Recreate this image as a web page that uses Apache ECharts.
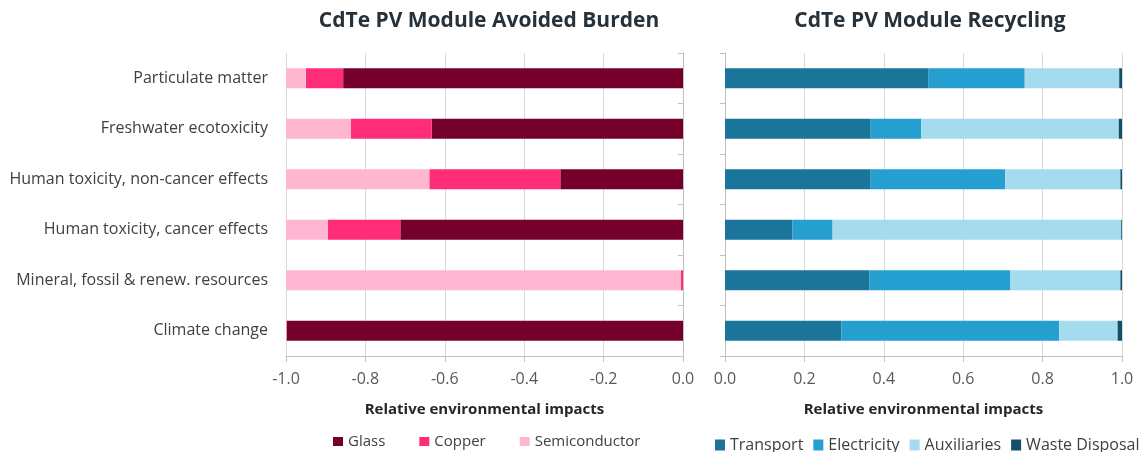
<!DOCTYPE html>
<html lang="en">
  <head>
    <meta charset="UTF-8" />
    <title>CdTe PV Module</title>
    <script src="https://cdn.jsdelivr.net/npm/echarts@6.0.0/dist/echarts.min.js"></script>
    <style>
      html, body { margin: 0; padding: 0; background: #fff; }
      #chart { width: 1142px; height: 452px; }
    </style>
  </head>
  <body>
    <div id="chart"></div>
  </body>
</html>
<script>
  // categories, top to bottom
  const categories = [
    "Particulate matter",
    "Freshwater ecotoxicity",
    "Human toxicity, non-cancer effects",
    "Human toxicity, cancer effects",
    "Mineral, fossil & renew. resources",
    "Climate change",
  ];

  // avoided burden (negative, stacked from 0 outward)
  const glass = [-0.856, -0.633, -0.309, -0.712, 0, -0.998];
  const copper = [-0.094, -0.204, -0.33, -0.183, -0.005, -0.001];
  const semiconductor = [-0.05, -0.163, -0.361, -0.105, -0.995, -0.001];

  // recycling
  const transport = [0.513, 0.367, 0.367, 0.17, 0.364, 0.293];
  const electricity = [0.242, 0.127, 0.339, 0.101, 0.355, 0.549];
  const auxiliaries = [0.238, 0.498, 0.29, 0.727, 0.277, 0.147];
  const wasteDisposal = [0.007, 0.008, 0.004, 0.002, 0.004, 0.011];

  const font = "'Open Sans', sans-serif";
  const gridLine = "#d9d9d9";
  const axisGray = "#bfbfbf";

  const chart = echarts.init(document.getElementById("chart"));

  const valueAxis = (gridIndex, min, max) => ({
    type: "value",
    gridIndex: gridIndex,
    min: min,
    max: max,
    interval: 0.2,
    name: "Relative environmental impacts",
    nameLocation: "middle",
    nameGap: 46,
    nameTextStyle: { fontFamily: font, fontSize: 15, fontWeight: "bold", color: "#262626" },
    axisLine: { show: true, lineStyle: { color: axisGray } },
    axisTick: { show: true, length: 6, lineStyle: { color: axisGray } },
    axisLabel: {
      fontFamily: font,
      fontSize: 16,
      color: "#595959",
      margin: 15,
      formatter: (v) => v.toFixed(1),
    },
    splitLine: { show: true, lineStyle: { color: gridLine } },
  });

  const bar = (name, data, color, xi, yi) => ({
    name: name,
    type: "bar",
    stack: "s" + xi,
    xAxisIndex: xi,
    yAxisIndex: yi,
    barWidth: 20,
    data: data,
    itemStyle: { color: color },
  });

  const option = {
    animation: false,
    backgroundColor: "#fff",
    title: [
      {
        text: "CdTe PV Module Avoided Burden",
        left: 484,
        top: 6,
        textAlign: "center",
        textStyle: { fontFamily: font, fontSize: 21, fontWeight: "bold", color: "#27313a" },
      },
      {
        text: "CdTe PV Module Recycling",
        left: 925,
        top: 6,
        textAlign: "center",
        textStyle: { fontFamily: font, fontSize: 21, fontWeight: "bold", color: "#27313a" },
      },
    ],
    legend: [
      {
        data: ["Glass", "Copper", "Semiconductor"],
        left: 333,
        top: 434,
        padding: 0,
        icon: "rect",
        itemWidth: 10,
        itemHeight: 9,
        itemGap: 34,
        textStyle: { fontFamily: font, fontSize: 15, color: "#404040" },
      },
      {
        data: ["Transport", "Electricity", "Auxiliaries", "Waste Disposal"],
        left: 715,
        top: 437,
        padding: 0,
        icon: "rect",
        itemWidth: 10,
        itemHeight: 11,
        itemGap: 10,
        textStyle: { fontFamily: font, fontSize: 16, color: "#404040" },
      },
    ],
    grid: [
      { left: 286, right: 459, top: 53, height: 303 },
      { left: 725, right: 20, top: 53, height: 303 },
    ],
    xAxis: [valueAxis(0, -1, 0), valueAxis(1, 0, 1)],
    yAxis: [
      {
        type: "category",
        gridIndex: 0,
        position: "left",
        inverse: true,
        data: categories,
        axisLine: { show: false },
        axisTick: { show: false },
        axisLabel: { fontFamily: font, fontSize: 16, color: "#404040", margin: 18 },
      },
      {
        type: "category",
        gridIndex: 0,
        position: "right",
        inverse: true,
        data: categories,
        axisLine: { show: true, onZero: false, lineStyle: { color: axisGray } },
        axisTick: { show: true, inside: true, length: 5, lineStyle: { color: axisGray } },
        axisLabel: { show: false },
      },
      {
        type: "category",
        gridIndex: 1,
        position: "left",
        inverse: true,
        data: categories,
        axisLine: { show: true, onZero: false, lineStyle: { color: axisGray } },
        axisTick: { show: true, length: 5, lineStyle: { color: axisGray } },
        axisLabel: { show: false },
      },
    ],
    series: [
      bar("Glass", glass, "#75002b", 0, 0),
      bar("Copper", copper, "#ff2d78", 0, 0),
      bar("Semiconductor", semiconductor, "#ffb6d1", 0, 0),
      bar("Transport", transport, "#1b7499", 1, 2),
      bar("Electricity", electricity, "#259fd0", 1, 2),
      bar("Auxiliaries", auxiliaries, "#a4dbef", 1, 2),
      bar("Waste Disposal", wasteDisposal, "#124f6b", 1, 2),
    ],
  };
  chart.setOption(option);
</script>
